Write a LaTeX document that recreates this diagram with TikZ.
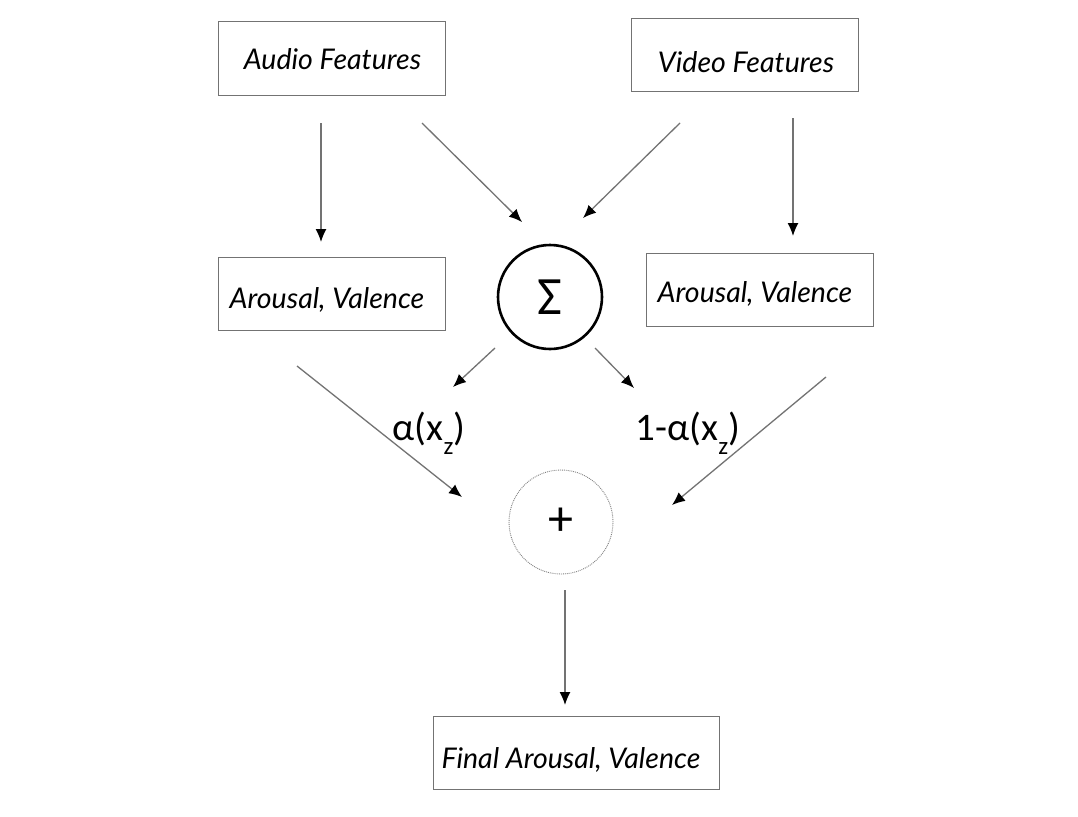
\documentclass[tikz,border=0pt]{standalone}
\usepackage{fontspec}
\setmainfont{Lato}
\newfontfamily\labfont{Carlito}
\usetikzlibrary{arrows.meta}
\begin{document}
\begin{tikzpicture}[x=1pt,y=-1pt,
  box/.style={draw=black!55, line width=1pt, minimum width=227pt, minimum height=73pt, inner sep=0pt},
  boxtext/.style={inner sep=0pt, font=\fontsize{28.5}{32}\selectfont\itshape},
  arr/.style={draw=black!55, line width=1.3pt, -{Latex[length=13pt,width=11pt,fill=black,color=black]}},
  lab/.style={font=\labfont\fontsize{39}{44}\selectfont, inner sep=0pt}]
\useasboundingbox (0,0) rectangle (1078,816);
\fill[white] (0,0) rectangle (1078,816);
% boxes
\node[box] (audio) at (331.5,58.5) {};
\node[box] (video) at (745,55) {};
\node[box] (avl) at (331.5,293.5) {};
\node[box] (avr) at (760,289.5) {};
\node[box, minimum width=286pt] (final) at (576,753) {};
\node[boxtext] (audio-t) at (332.5,59) {Audio Features};
\node[boxtext] (video-t) at (746,62) {Video Features};
\node[boxtext] (avl-t) at (327,300) {Arousal, Valence};
\node[boxtext] (avr-t) at (755,294) {Arousal, Valence};
\node[boxtext] (final-t) at (571,760) {Final Arousal, Valence};
% circles
\node[circle, draw=black, line width=2.6pt, minimum size=104pt, inner sep=0pt,
  font=\labfont\fontsize{54}{58}\selectfont] (sum) at (550,297) {Σ};
\node[circle, draw=black!50, densely dotted, line width=0.9pt, minimum size=104pt, inner sep=0pt,
  font=\labfont\fontsize{50}{54}\selectfont] (plus) at (561,522) {+};
% endpoints
\coordinate (a1) at (321,123); \coordinate (a2) at (321,242);
\coordinate (b1) at (422,123); \coordinate (b2) at (522,222);
\coordinate (c1) at (680,123); \coordinate (c2) at (583,218);
\coordinate (d1) at (793,118); \coordinate (d2) at (793,236);
\coordinate (e1) at (495,348); \coordinate (e2) at (453,387);
\coordinate (f1) at (595,348); \coordinate (f2) at (634,388);
\coordinate (g1) at (297,366); \coordinate (g2) at (462,497);
\coordinate (h1) at (826,377); \coordinate (h2) at (672,505);
\coordinate (i1) at (565,590); \coordinate (i2) at (565,705);
\draw[arr] (a1) -- (a2);
\draw[arr] (b1) -- (b2);
\draw[arr] (c1) -- (c2);
\draw[arr] (d1) -- (d2);
\draw[arr] (e1) -- (e2);
\draw[arr] (f1) -- (f2);
\draw[arr] (g1) -- (g2);
\draw[arr] (h1) -- (h2);
\draw[arr] (i1) -- (i2);
% labels
\node[lab] (la) at (429,433) {α(x\raisebox{-0.35em}{\fontsize{25}{28}\selectfont z})};
\node[lab] (lb) at (688,433) {1-α(x\raisebox{-0.35em}{\fontsize{25}{28}\selectfont z})};
\end{tikzpicture}
\end{document}
